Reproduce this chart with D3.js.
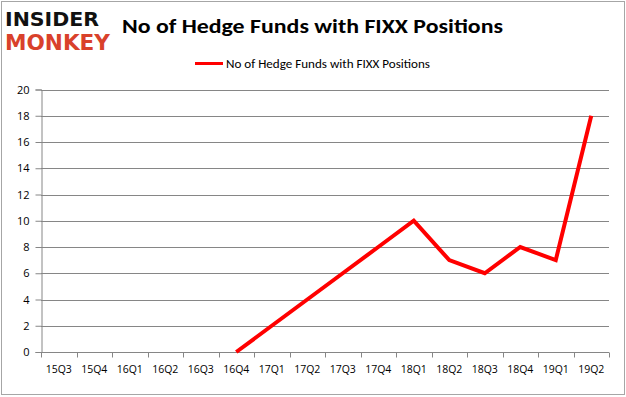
<!DOCTYPE html>
<html>
<head>
<meta charset="utf-8">
<script src="https://cdn.jsdelivr.net/npm/d3@7"></script>
<style>
  body { margin: 0; background: #fff; }
  svg { display: block; font-family: Calibri, Carlito, "Open Sans", "Liberation Sans", sans-serif; }
</style>
</head>
<body>
<div id="chart"></div>
<script>
// data
var quarters = ['15Q3', '15Q4', '16Q1', '16Q2', '16Q3', '16Q4', '17Q1', '17Q2', '17Q3', '17Q4', '18Q1', '18Q2', '18Q3', '18Q4', '19Q1', '19Q2'];
var funds = [null, null, null, null, null, 0, 2, 4, 6, 8, 10, 7, 6, 8, 7, 18];
var yTicks = [0, 2, 4, 6, 8, 10, 12, 14, 16, 18, 20];
var seriesName = 'No of Hedge Funds with FIXX Positions';

var width = 626, height = 397;
var margin = { top: 89.5, right: 17, bottom: 45, left: 41 };

var svg = d3.select('#chart').append('svg')
  .attr('width', width)
  .attr('height', height);

// outer frame
svg.append('rect')
  .attr('x', 1.5).attr('y', 1.5)
  .attr('width', width - 3).attr('height', height - 4)
  .attr('fill', '#fff').attr('stroke', '#a6a6a6').attr('stroke-width', 1);

var x = d3.scaleBand()
  .domain(quarters)
  .range([margin.left, width - margin.right]);

var y = d3.scaleLinear()
  .domain([0, 20])
  .range([height - margin.bottom, margin.top]);

// gridlines
svg.append('g')
  .selectAll('line')
  .data(yTicks.filter(function (d) { return d > 0; }))
  .enter()
  .append('line')
  .attr('x1', margin.left)
  .attr('x2', width - margin.right)
  .attr('y1', function (d) { return Math.round(y(d)) + 0.5; })
  .attr('y2', function (d) { return Math.round(y(d)) + 0.5; })
  .attr('stroke', '#868686')
  .attr('stroke-width', 1);

// y axis
var yAxis = svg.append('g')
  .attr('transform', 'translate(' + (margin.left + 0.5) + ',0)')
  .call(d3.axisLeft(y).tickValues(yTicks).tickSize(6).tickPadding(6));

// x axis with ticks on category borders
var xAxis = svg.append('g')
  .attr('transform', 'translate(0,' + (Math.round(y(0)) + 0.5) + ')')
  .call(d3.axisBottom(x).tickSize(0).tickPadding(13));

xAxis.append('g')
  .selectAll('line')
  .data(quarters.concat(['end']))
  .enter()
  .append('line')
  .attr('x1', function (d, i) { return Math.round(margin.left + i * x.step()) + 0.5; })
  .attr('x2', function (d, i) { return Math.round(margin.left + i * x.step()) + 0.5; })
  .attr('y1', 0)
  .attr('y2', 5)
  .attr('stroke', '#868686');

[yAxis, xAxis].forEach(function (ax) {
  ax.attr('font-family', null).attr('font-size', null);
  ax.select('.domain').attr('stroke', '#868686');
  ax.selectAll('.tick line').attr('stroke', '#868686');
  ax.selectAll('text')
    .attr('fill', '#000')
    .attr('font-family', '"Open Sans", sans-serif');
});
yAxis.selectAll('text').attr('font-size', '11px');
xAxis.selectAll('text').attr('font-size', '10.5px');
xAxis.select('.domain').attr('d', 'M' + margin.left + ',0H' + (width - margin.right));

// the line
var line = d3.line()
  .defined(function (d) { return d != null; })
  .x(function (d, i) { return x(quarters[i]) + x.bandwidth() / 2; })
  .y(function (d) { return y(d); });

svg.append('path')
  .datum(funds)
  .attr('d', line)
  .attr('fill', 'none')
  .attr('stroke', '#ff0000')
  .attr('stroke-width', 4)
  .attr('stroke-linejoin', 'miter');

// title
svg.append('text')
  .attr('x', 122)
  .attr('y', 33)
  .attr('textLength', 381)
  .attr('lengthAdjust', 'spacingAndGlyphs')
  .style('font-size', '21px')
  .style('font-weight', 'bold')
  .text(seriesName);

// legend
svg.append('line')
  .attr('x1', 195).attr('x2', 223)
  .attr('y1', 63.5).attr('y2', 63.5)
  .attr('stroke', '#ff0000').attr('stroke-width', 3);

svg.append('text')
  .attr('x', 226)
  .attr('y', 67.5)
  .attr('textLength', 204)
  .attr('lengthAdjust', 'spacingAndGlyphs')
  .style('font-size', '12px')
  .text(seriesName);

// logo
svg.append('text')
  .attr('x', 5).attr('y', 26)
  .attr('textLength', 94)
  .attr('lengthAdjust', 'spacingAndGlyphs')
  .style('font-family', '"DejaVu Sans", sans-serif')
  .style('font-size', '20px')
  .style('font-weight', 'bold')
  .attr('fill', '#111')
  .text('INSIDER');

svg.append('text')
  .attr('x', 5).attr('y', 50)
  .attr('textLength', 105)
  .attr('lengthAdjust', 'spacingAndGlyphs')
  .style('font-family', '"DejaVu Sans", sans-serif')
  .style('font-size', '21px')
  .style('font-weight', 'bold')
  .attr('fill', '#d9412b')
  .text('MONKEY');
</script>
</body>
</html>
